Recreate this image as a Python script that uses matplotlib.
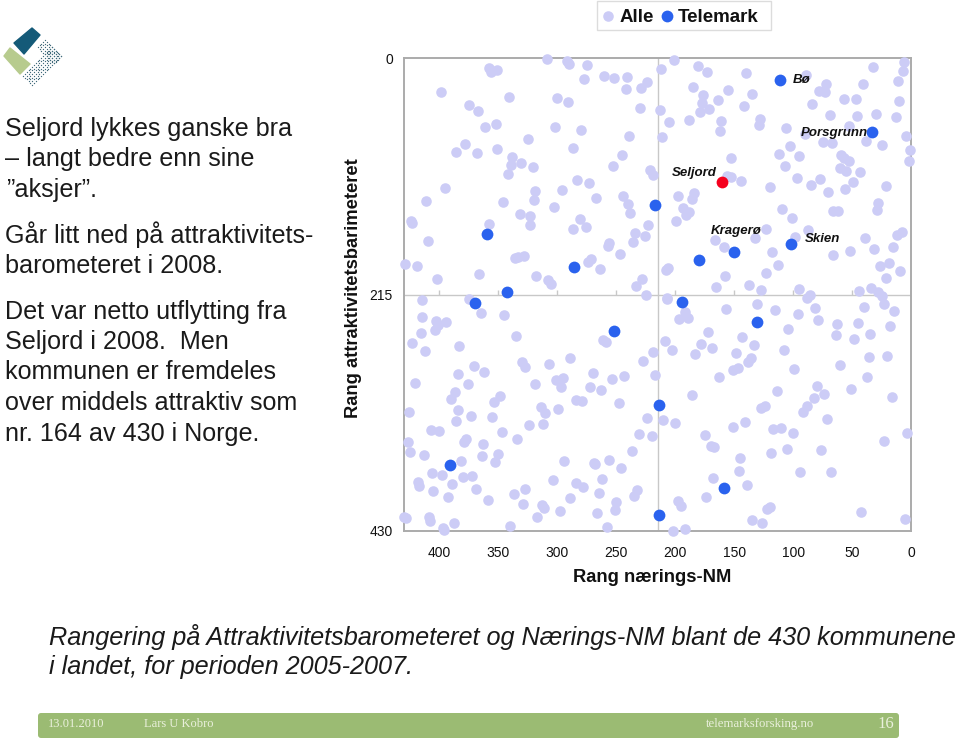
#!/usr/bin/env python3
"""Rang naerings-NM vs attraktivitetsbarometer, slide with scatter."""

import matplotlib

matplotlib.use("Agg")

import matplotlib.pyplot as plt
from matplotlib.patches import FancyBboxPatch, Polygon, Rectangle

plt.rcParams["font.family"] = ["Liberation Sans", "DejaVu Sans"]

LIGHT = "#CCCCF6"
BLUE = "#2A62EE"
RED = "#F5001E"
GREEN = "#9BBB73"

# rank naerings-NM / rank attraktivitet for all municipalities
alle_x = [
    309, 292, 290, 275, 358, 351, 356, 277, 260, 252, 241, 242, 229, 224, 399, 341, 300, 291, 375, 367,
    230, 352, 361, 302, 280, 239, 325, 378, 386, 368, 351, 287, 245, 338, 339, 331, 321, 342, 253, 221,
    219, 283, 273, 395, 319, 296, 411, 320, 346, 267, 244, 240, 303, 238, 424, 423, 358, 332, 323, 323,
    281, 287, 276, 223, 234, 226, 236, 410, 256, 257, 247, 328, 333, 336, 271, 274, 429, 419, 264, 366,
    318, 402, 308, 305, 228, 233, 225,
    201, 212, 181, 173, 140, 89, 32, 6, 7, 11, 41, 72, 78, 73, 185, 155, 135, 176, 177, 164,
    57, 47, 10, 84, 142, 213, 179, 171, 30, 69, 46, 13, 188, 205, 161, 128, 129, 106, 162, 53,
    90, 211, 75, 67, 38, 4, 25, 103, 1, 112, 95, 59, 57, 53, 2, 153, 107, 60, 55, 43,
    97, 77, 49, 85, 144, 156, 153, 120, 21, 56, 70, 184, 186, 198, 28, 29, 193, 188, 191, 109,
    101, 66, 62, 199, 123, 87, 8, 12, 98, 39, 166, 132, 159, 52, 31, 15, 118, 66, 206, 208,
    113, 26, 19, 9, 123, 21, 158, 137, 165, 127, 95, 44, 34, 28, 25, 86, 88, 207,
    415, 375, 365, 345, 415, 403, 394, 401, 404, 416, 423, 335, 383, 412, 261, 259, 219, 227, 289, 330,
    327, 307, 371, 362, 384, 270, 217, 243, 254, 295, 301, 297, 319, 421, 376, 272, 263, 387, 390, 349,
    354, 284, 279, 248, 314, 310, 299, 426, 384, 373, 355, 386, 324, 312, 224, 407, 400, 347, 231, 220,
    334, 377, 379, 363, 427, 425, 413, 364, 350, 237, 382, 353, 294, 256, 269, 268, 246, 406, 398, 380,
    372, 262, 304, 284, 278, 418, 417, 389, 405, 369, 327, 337, 265, 232, 235, 393, 359, 289, 329, 313,
    311, 250, 251, 298, 266, 317, 430, 428, 409, 408, 388, 397, 396, 340, 258,
    207, 157, 131, 115, 96, 81, 79, 40, 23, 14, 192, 197, 189, 104, 63, 45, 18, 64, 48, 35,
    172, 143, 209, 178, 133, 203, 169, 183, 148, 108, 136, 138, 36, 20, 60, 147, 151, 99, 163, 37,
    80, 51, 114, 74, 82, 16, 186, 88, 124, 127, 92, 71, 210, 200, 141, 151, 117, 110, 100, 3,
    175, 23, 170, 167, 105, 119, 76, 145, 146, 94, 68, 168, 139, 174, 198, 195, 120, 122, 42, 5,
    135, 126, 202, 192,
]
alle_y = [
    1, 3, 5, 6, 9, 11, 13, 19, 16, 18, 17, 28, 27, 22, 31, 35, 36, 40, 43, 48,
    45, 60, 63, 63, 65, 71, 74, 78, 85, 86, 83, 82, 88, 90, 97, 95, 99, 105, 98, 102,
    106, 111, 114, 118, 121, 120, 130, 129, 131, 127, 125, 133, 135, 141, 148, 150, 151, 142, 144, 152,
    146, 155, 154, 152, 159, 162, 167, 166, 168, 171, 178, 180, 181, 182, 183, 185, 187, 189, 192, 196,
    198, 201, 202, 205, 201, 207, 215,
    2, 10, 7, 13, 14, 15, 8, 4, 12, 21, 24, 24, 30, 31, 26, 29, 33, 34, 41, 38,
    37, 37, 39, 42, 44, 47, 49, 46, 51, 52, 53, 54, 56, 58, 57, 55, 61, 64, 66, 62,
    69, 72, 76, 77, 75, 71, 79, 80, 84, 87, 89, 88, 91, 94, 94, 91, 98, 100, 103, 104,
    109, 110, 113, 115, 112, 107, 108, 117, 116, 119, 122, 123, 128, 125, 132, 138, 136, 140, 143, 137,
    145, 139, 139, 148, 155, 156, 158, 161, 163, 164, 165, 164, 172, 175, 174, 172, 176, 179, 191, 193,
    188, 189, 186, 194, 195, 200, 198, 206, 208, 211, 210, 212, 209, 213, 216, 215, 218, 218,
    220, 219, 232, 234, 235, 239, 240, 243, 247, 250, 259, 253, 262, 266, 256, 258, 267, 275, 273, 276,
    281, 278, 280, 285, 287, 286, 288, 289, 292, 291, 293, 299, 296, 295, 296, 299, 302, 304, 310, 307,
    313, 311, 312, 314, 317, 323, 319, 322, 320, 325, 326, 330, 334, 333, 327, 338, 339, 340, 342, 344,
    346, 346, 349, 351, 349, 358, 361, 362, 360, 357, 366, 367, 366, 365, 368, 369, 373, 377, 379, 381,
    380, 383, 384, 386, 390, 385, 389, 387, 394, 392, 392, 396, 395, 393, 398, 399, 402, 400, 405, 406,
    409, 404, 411, 412, 414, 417, 417, 418, 417, 421, 423, 427, 429, 425, 426,
    219, 228, 224, 229, 233, 227, 238, 226, 224, 230, 231, 237, 236, 246, 242, 241, 244, 252, 255, 251,
    249, 254, 257, 260, 261, 265, 264, 269, 268, 265, 273, 276, 272, 271, 279, 282, 284, 283, 290, 290,
    298, 301, 303, 305, 309, 308, 306, 316, 316, 318, 322, 328, 329, 332, 331, 335, 337, 336, 341, 341,
    343, 348, 353, 354, 355, 359, 356, 364, 375, 376, 376, 382, 388, 399, 403, 407, 408, 410, 413, 419,
    420, 423, 430, 428,
]

# Telemark municipalities without a label
telemark_x = [360, 286, 343, 217, 370, 180, 194, 252, 391, 214, 214, 131, 159]
telemark_y = [160, 190, 213, 134, 223, 184, 222, 248, 370, 315, 415, 240, 391]

# labelled points
navn = ["Bø", "Porsgrunn", "Kragerø", "Skien"]
navn_x = [111, 33, 150, 102]
navn_y = [20, 67, 176, 169]
navn_dx = [13, -71, -23, 14]
navn_dy = [0, -1, 21, 5]

seljord_x = [160]
seljord_y = [113]

x_ticks = [400, 350, 300, 250, 200, 150, 100, 50, 0]
y_ticks = [0, 215, 430]

left_text = [
    (5, 129, "Seljord lykkes ganske bra"),
    (5, 159, "– langt bedre enn sine"),
    (6, 190, "”aksjer”."),
    (5, 235, "Går litt ned på attraktivitets-"),
    (5, 266, "barometeret i 2008."),
    (5, 312, "Det var netto utflytting fra"),
    (5, 342, "Seljord i 2008.  Men"),
    (5, 372, "kommunen er fremdeles"),
    (5, 403, "over middels attraktiv som"),
    (5, 434, "nr. 164 av 430 i Norge."),
]


def px(x, y):
    return x / 960, 1 - y / 741


def draw_logo(fig):
    overlay = fig.add_axes([0, 0, 1, 1], zorder=-1)
    overlay.set_xlim(0, 960)
    overlay.set_ylim(741, 0)
    overlay.axis("off")
    overlay.add_patch(Polygon([(32, 28), (40, 35), (24, 54), (14, 43)], color="#145A78", joinstyle="round", lw=1))
    overlay.add_patch(Polygon([(10, 48), (30, 64), (20, 74), (4, 56)], color="#B7CB8E", joinstyle="round", lw=1))
    # dotted part of the logo, two bands at right angles
    dx, dy = [], []
    for i in range(10):
        for j in range(5):
            dx.append(45 + i * 1.8 - j * 1.8)
            dy.append(40 + i * 1.8 + j * 1.8)
    for i in range(17):
        for j in range(6):
            dx.append(61 - i * 1.8 - j * 1.8)
            dy.append(56 + i * 1.8 - j * 1.8)
    overlay.scatter(dx, dy, s=0.9, color="#3F6A7A", linewidths=0)
    return overlay


def main():
    fig = plt.figure(figsize=(9.6, 7.41), dpi=100)
    overlay = draw_logo(fig)

    ax = fig.add_axes([404 / 960, 1 - 531 / 741, 507 / 960, 473 / 741])
    ax.set_xlim(430, 0)
    ax.set_ylim(430, 0)
    for spine in ax.spines.values():
        spine.set_color("#ABABAB")
        spine.set_linewidth(1.4)
        spine.set_zorder(1)

    ax.axhline(215, color="#C8C8C8", lw=1, zorder=1)
    ax.axvline(215, color="#C8C8C8", lw=1, zorder=1)
    ax.vlines(x_ticks, 215, 211, color="#C8C8C8", lw=1, zorder=1)

    ax.scatter(alle_x, alle_y, s=58, color=LIGHT, linewidths=0, zorder=2, clip_on=False)
    ax.scatter(telemark_x + navn_x, telemark_y + navn_y, s=72, color=BLUE, linewidths=0, zorder=3, clip_on=False)
    ax.scatter(seljord_x, seljord_y, s=72, color=RED, linewidths=0, zorder=4, clip_on=False)

    for name, x, y, dx, dy in zip(navn, navn_x, navn_y, navn_dx, navn_dy):
        ax.annotate(
            name, (x, y), xytext=(dx, dy), textcoords="offset pixels",
            fontsize=9.5, fontweight="bold", fontstyle="italic", va="center", color="#111111", zorder=5,
        )
    ax.annotate(
        "Seljord", (seljord_x[0], seljord_y[0]), xytext=(-51, 9), textcoords="offset pixels",
        fontsize=9.5, fontweight="bold", fontstyle="italic", va="center", color="#111111", zorder=5,
    )

    ax.set_xticks(x_ticks)
    ax.set_yticks(y_ticks)
    ax.tick_params(axis="both", length=0, labelsize=10, colors="#111111")
    ax.tick_params(axis="x", pad=10.7)
    ax.tick_params(axis="y", pad=8)

    fig.text(*px(652, 578), "Rang nærings-NM", fontsize=13.2, fontweight="bold", ha="center", va="center", color="#111111")
    fig.text(*px(354, 288), "Rang attraktivitetsbarimeteret", fontsize=13.2, fontweight="bold",
             rotation=90, ha="center", va="center", color="#111111")

    # legend box drawn by hand, the original sits outside the plot frame
    overlay.add_patch(Rectangle((597, 1), 174, 29, facecolor="white", edgecolor="#DCDCDC", lw=1))
    overlay.scatter([608], [16], s=58, color=LIGHT, linewidths=0)
    overlay.scatter([667], [16], s=72, color=BLUE, linewidths=0)
    fig.text(*px(620, 17), "Alle", fontsize=13.5, fontweight="bold", va="center", color="#111111")
    fig.text(*px(678, 17), "Telemark", fontsize=13.5, fontweight="bold", va="center", color="#111111")

    for x, y, line in left_text:
        fig.text(*px(x, y), line, fontsize=18.05, va="center", color="#1A1A1A")

    fig.text(*px(49, 637), "Rangering på Attraktivitetsbarometeret og Nærings-NM blant de 430 kommunene",
             fontsize=18.15, fontstyle="italic", va="center", color="#1A1A1A")
    fig.text(*px(49, 667), "i landet, for perioden 2005-2007.", fontsize=18.15, fontstyle="italic", va="center", color="#1A1A1A")

    overlay.add_patch(FancyBboxPatch((38, 713), 861, 25, boxstyle="round,pad=0,rounding_size=3",
                                     facecolor=GREEN, edgecolor="none"))
    for x, size, txt in [(48, 9, "13.01.2010"), (144, 9, "Lars U Kobro"), (706, 9.2, "telemarksforsking.no"), (877, 12, "16")]:
        fig.text(*px(x, 724), txt, fontsize=size, family="Liberation Serif", va="center", color="#EAF0DC")

    fig.savefig("out.png")
    plt.close(fig)


if __name__ == "__main__":
    main()
